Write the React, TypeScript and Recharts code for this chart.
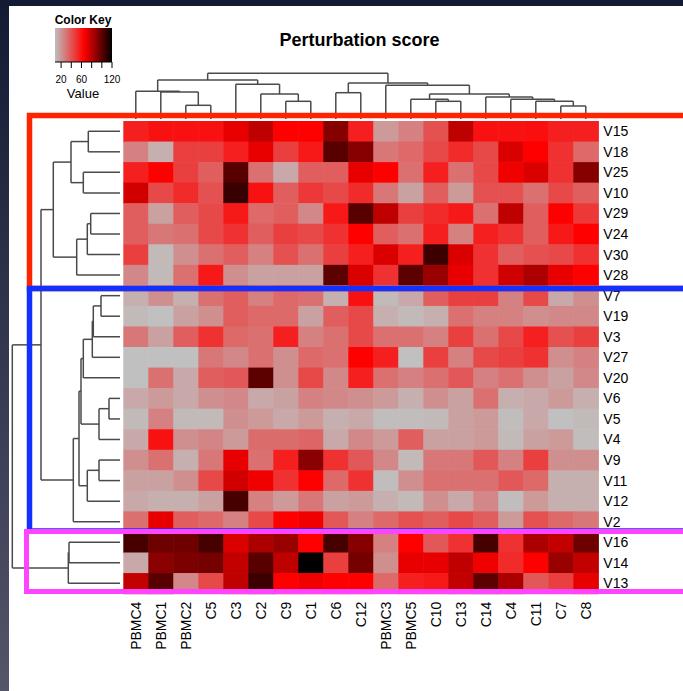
import React from "react";
import { ReferenceArea, Scatter, ScatterChart, XAxis, YAxis } from "recharts";

const FONT = "'Liberation Sans', Arial, sans-serif";

const COLS = ["PBMC4", "PBMC1", "PBMC2", "C5", "C3", "C2", "C9", "C1", "C6", "C12", "PBMC3", "PBMC5", "C10", "C13", "C14", "C4", "C11", "C7", "C8"];
const ROWS = ["V15", "V18", "V25", "V10", "V29", "V24", "V30", "V28", "V7", "V19", "V3", "V27", "V20", "V6", "V5", "V4", "V9", "V11", "V12", "V2", "V16", "V14", "V13"];

// perturbation score, one row per gene set, columns in COLS order
const SCORES = [
  [56, 60, 60, 60, 70, 79, 65, 65, 91, 56, 21, 28, 42, 79, 60, 60, 61, 56, 56],
  [28, 15, 47, 47, 56, 70, 47, 58, 101, 91, 31, 35, 44, 53, 44, 73, 65, 51, 35],
  [56, 65, 47, 38, 101, 33, 17, 38, 38, 70, 65, 33, 56, 33, 44, 68, 73, 51, 91],
  [75, 44, 53, 42, 108, 60, 38, 49, 44, 53, 31, 19, 38, 21, 42, 42, 33, 44, 38],
  [38, 19, 38, 44, 58, 35, 38, 26, 58, 101, 79, 47, 53, 58, 33, 79, 38, 65, 49],
  [38, 31, 33, 44, 51, 38, 47, 44, 51, 65, 38, 33, 56, 28, 56, 51, 38, 58, 65],
  [47, 12, 24, 33, 38, 28, 42, 33, 47, 56, 73, 56, 107, 73, 51, 38, 42, 44, 51],
  [26, 12, 33, 58, 24, 19, 19, 19, 100, 73, 51, 100, 87, 70, 51, 75, 83, 70, 65],
  [15, 24, 15, 33, 38, 28, 35, 33, 15, 60, 12, 17, 38, 47, 47, 28, 44, 17, 24],
  [12, 10, 19, 24, 38, 35, 35, 19, 38, 44, 15, 12, 15, 33, 28, 28, 24, 26, 26],
  [31, 19, 38, 51, 35, 33, 56, 28, 33, 44, 33, 33, 28, 47, 33, 44, 56, 42, 47],
  [10, 10, 10, 31, 26, 33, 24, 35, 33, 65, 56, 10, 47, 28, 44, 47, 51, 24, 28],
  [10, 33, 17, 38, 40, 100, 24, 44, 26, 56, 33, 28, 33, 40, 28, 33, 24, 19, 26],
  [17, 21, 17, 24, 26, 17, 19, 28, 26, 24, 21, 15, 24, 19, 33, 15, 17, 21, 15],
  [12, 28, 12, 12, 24, 21, 17, 21, 15, 17, 11, 11, 12, 19, 21, 11, 17, 10, 12],
  [17, 60, 24, 27, 21, 34, 34, 36, 17, 26, 21, 38, 19, 19, 21, 12, 19, 21, 11],
  [24, 33, 15, 31, 70, 33, 56, 90, 51, 40, 26, 12, 31, 31, 40, 28, 47, 24, 24],
  [19, 19, 24, 44, 75, 68, 51, 65, 35, 51, 11, 24, 33, 33, 33, 40, 35, 15, 15],
  [17, 15, 15, 19, 105, 28, 21, 31, 19, 21, 15, 12, 24, 17, 26, 11, 21, 15, 15],
  [33, 70, 38, 35, 28, 44, 65, 68, 40, 28, 35, 42, 38, 44, 38, 21, 42, 35, 31],
  [105, 96, 96, 105, 73, 83, 87, 65, 105, 91, 28, 65, 40, 51, 105, 51, 83, 78, 96],
  [17, 90, 93, 95, 78, 101, 79, 120, 47, 95, 24, 70, 70, 79, 68, 53, 65, 87, 78],
  [78, 101, 26, 44, 79, 107, 65, 68, 65, 65, 35, 56, 58, 78, 100, 83, 40, 47, 70],
];

// hclust-style merges: negative = leaf (1-based, display order), positive = earlier merge; third = height
const COL_MERGES: [number, number, number][] = [
  [-3, -4, 13.7], [-2, 1, 27], [-1, 2, 27.7], [-7, -8, 17.7], [-6, 4, 25], [-5, 5, 34.7],
  [3, 6, 39], [-9, -10, 26.3], [-18, -19, 13], [-17, 9, 17.7], [-16, 10, 19.7], [-15, 11, 22],
  [-13, -14, 17.7], [-12, 13, 19.7], [14, 12, 25], [-11, 15, 33.7], [8, 16, 36], [7, 17, 45.7],
];
const ROW_MERGES: [number, number, number][] = [
  [-1, -2, 31.7], [-3, -4, 36.7], [1, 2, 49], [-5, -6, 29.3], [4, -7, 32.7], [5, -8, 43.3],
  [3, 6, 66.7], [-9, -10, 19], [8, -11, 26.7], [9, -12, 27.7], [10, -13, 36.7], [-14, -15, 11],
  [12, -16, 21], [11, 13, 39], [-17, -18, 21], [15, -19, 32.7], [14, 16, 41], [17, -20, 46.7],
  [7, 18, 79], [-21, -22, 51], [20, -23, 51.7], [19, 21, 107.7],
];

const KEY_TICKS = [20, 40, 60, 80, 100, 120];
const KEY_LABELS = [20, 60, 120];

const LOW = 10;
const MID = 65;
const HIGH = 120;
const KEY_MIN = 8;

function scoreColor(v: number) {
  if (v <= MID) {
    const t = Math.max(0, (v - LOW) / (MID - LOW));
    const r = Math.round(192 + 63 * t);
    const g = Math.round(192 * (1 - t));
    return `rgb(${r},${g},${g})`;
  }
  const s = Math.min(1, (v - MID) / (HIGH - MID));
  return `rgb(${Math.round(255 * (1 - s))},0,0)`;
}

function dendroSegments(merges: [number, number, number][]) {
  const nodes: { p: number; h: number }[] = [];
  const get = (id: number) => (id < 0 ? { p: -id - 0.5, h: 0 } : nodes[id - 1]);
  const segs: [number, number, number, number][] = [];
  merges.forEach(([a, b, h]) => {
    const A = get(a);
    const B = get(b);
    segs.push([A.p, A.h, A.p, h], [B.p, B.h, B.p, h], [A.p, h, B.p, h]);
    nodes.push({ p: (A.p + B.p) / 2, h });
  });
  return segs;
}

const W = 683;
const H = 691;
const HM_LEFT = 123.3;
const HM_RIGHT = 598.3;
const HM_TOP = 121;
const HM_BOTTOM = 593.6;
const CELL_W = (HM_RIGHT - HM_LEFT) / COLS.length;
const CELL_H = (HM_BOTTOM - HM_TOP) / ROWS.length;

const cells = SCORES.flatMap((row, r) => row.map((v, c) => ({ x: c + 0.5, y: r + 0.5, v })));

const CellShape = (props: any) => {
  const { cx, cy, payload } = props;
  return (
    <rect
      x={cx - CELL_W / 2}
      y={cy - CELL_H / 2}
      width={CELL_W + 0.6}
      height={CELL_H + 0.6}
      fill={scoreColor(payload.v)}
    />
  );
};

const NoDot = () => <g />;

const ColTick = (props: any) => {
  const { x, y, payload } = props;
  return (
    <text
      x={x}
      y={y}
      transform={`rotate(-90 ${x} ${y})`}
      textAnchor="end"
      dominantBaseline="central"
      fontSize={14}
      fill="#000"
    >
      {COLS[Math.floor(payload.value)]}
    </text>
  );
};

const abs: React.CSSProperties = { position: "absolute", left: 0, top: 0 };
const DENDRO_LINE = { stroke: "#4a4a4a", strokeWidth: 1.5 };

export default function App() {
  const colSegs = dendroSegments(COL_MERGES);
  const rowSegs = dendroSegments(ROW_MERGES);

  return (
    <div style={{ ...abs, width: W, height: H, background: "linear-gradient(#131a33, #54546a)", fontFamily: FONT, overflow: "hidden" }}>
      <div style={{ position: "absolute", left: 9, top: 6, right: 0, bottom: 0, background: "#fff" }} />

      {/* heatmap */}
      <div style={abs}>
        <ScatterChart width={W} height={H} margin={{ top: HM_TOP, left: HM_LEFT, right: W - HM_RIGHT - 60, bottom: H - HM_BOTTOM - 80 }}>
          <XAxis
            type="number"
            dataKey="x"
            domain={[0, COLS.length]}
            ticks={COLS.map((_, i) => i + 0.5)}
            interval={0}
            height={80}
            axisLine={false}
            tickLine={false}
            tickSize={0}
            tickMargin={8}
            tick={<ColTick />}
          />
          <YAxis
            type="number"
            dataKey="y"
            orientation="right"
            reversed
            domain={[0, ROWS.length]}
            ticks={ROWS.map((_, i) => i + 0.5)}
            interval={0}
            width={60}
            axisLine={false}
            tickLine={false}
            tickSize={0}
            tickMargin={5}
            tickFormatter={(v: number) => ROWS[Math.floor(v)]}
            tick={{ fontSize: 14, fill: "#000", textAnchor: "start" }}
          />
          <Scatter data={cells} shape={<CellShape />} isAnimationActive={false} />
        </ScatterChart>
      </div>

      {/* column dendrogram */}
      <div style={abs}>
        <ScatterChart width={W} height={H} margin={{ top: 72, left: HM_LEFT, right: W - HM_RIGHT, bottom: H - 119 }}>
          <XAxis type="number" dataKey="x" domain={[0, COLS.length]} hide />
          <YAxis type="number" dataKey="y" domain={[0, 47]} hide />
          {colSegs.map((s, i) => (
            <Scatter
              key={i}
              data={[{ x: s[0], y: s[1] }, { x: s[2], y: s[3] }]}
              line={DENDRO_LINE}
              shape={<NoDot />}
              isAnimationActive={false}
            />
          ))}
        </ScatterChart>
      </div>

      {/* row dendrogram */}
      <div style={abs}>
        <ScatterChart width={W} height={H} margin={{ top: HM_TOP, left: 12, right: W - 120, bottom: H - HM_BOTTOM }}>
          <XAxis type="number" dataKey="x" domain={[0, 108]} reversed hide />
          <YAxis type="number" dataKey="y" domain={[0, ROWS.length]} reversed hide />
          {rowSegs.map((s, i) => (
            <Scatter
              key={i}
              data={[{ x: s[1], y: s[0] }, { x: s[3], y: s[2] }]}
              line={DENDRO_LINE}
              shape={<NoDot />}
              isAnimationActive={false}
            />
          ))}
        </ScatterChart>
      </div>

      {/* colour key */}
      <div style={abs}>
        <ScatterChart width={200} height={110} margin={{ top: 28, left: 55, right: 88, bottom: 23 }}>
          <defs>
            <linearGradient id="keyGrad" x1="0" y1="0" x2="1" y2="0">
              <stop offset="0" stopColor="#bebebe" />
              <stop offset={(MID - KEY_MIN) / (HIGH - KEY_MIN)} stopColor="#ff0000" />
              <stop offset="1" stopColor="#000000" />
            </linearGradient>
          </defs>
          <XAxis
            type="number"
            dataKey="x"
            domain={[KEY_MIN, HIGH]}
            ticks={KEY_TICKS}
            interval={0}
            height={25}
            tickSize={6}
            tickMargin={8}
            stroke="#000"
            tickFormatter={(v: number) => (KEY_LABELS.includes(v) ? String(v) : "")}
            tick={{ fontSize: 10, fill: "#000" }}
          />
          <YAxis type="number" dataKey="y" domain={[0, 1]} hide />
          <ReferenceArea x1={KEY_MIN} x2={HIGH} y1={0} y2={1} fill="url(#keyGrad)" fillOpacity={1} stroke="none" ifOverflow="visible" />
          <Scatter
            data={[{ x: KEY_MIN, y: 0 }, { x: HIGH, y: 1 }]}
            shape={<NoDot />}
            isAnimationActive={false}
          />
        </ScatterChart>
      </div>

      <svg width={W} height={H} style={{ ...abs, pointerEvents: "none" }}>
        <text x={83} y={24} textAnchor="middle" fontSize={12} fontWeight="bold" fill="#000">Color Key</text>
        <text x={83} y={98} textAnchor="middle" fontSize={13} fill="#000">Value</text>
        <text x={359.5} y={46} textAnchor="middle" fontSize={18} fontWeight="bold" fill="#000">Perturbation score</text>
        <rect x={29.5} y={115.5} width={700} height={173} fill="none" stroke="#ff2400" strokeWidth={5.5} />
        <rect x={29.5} y={288.5} width={700} height={242.5} fill="none" stroke="#1230ff" strokeWidth={5.5} />
        <rect x={26.5} y={531.5} width={700} height={60} fill="none" stroke="#ff44ff" strokeWidth={5} />
      </svg>
    </div>
  );
}
